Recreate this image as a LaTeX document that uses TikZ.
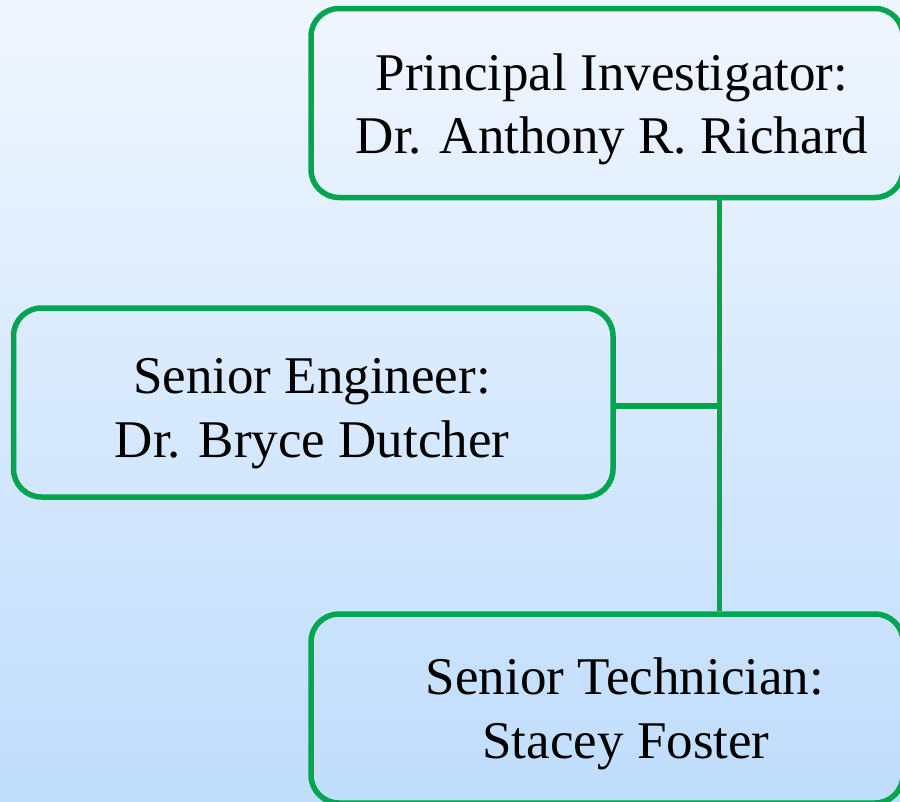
\documentclass[tikz,border=0pt]{standalone}
\usepackage{fontspec}
\setmainfont{Liberation Serif}
\definecolor{bgtop}{HTML}{F0F6FE}
\definecolor{bgbot}{HTML}{BFDDFC}
\definecolor{boxgreen}{HTML}{00A54F}
\begin{document}
\begin{tikzpicture}[x=1pt,y=-1pt,
  orgbox/.style={draw=boxgreen, line width=5.5pt, rounded corners=28pt, inner sep=0pt},
  label/.style={anchor=base, inner sep=0pt, font=\fontsize{53}{63}\selectfont, text=black},
  link/.style={draw=boxgreen, line width=5.5pt}]
  \useasboundingbox (0,0) rectangle (900,801);
  \shade[top color=bgtop, bottom color=bgbot] (0,0) rectangle (900,801);
  % boxes
  \node[orgbox, minimum width=592pt, minimum height=189pt] (pi) at (607,103) {};
  \node[orgbox, minimum width=599.5pt, minimum height=189pt] (se) at (313.25,402.5) {};
  \node[orgbox, minimum width=592pt, minimum height=189pt] (st) at (607,708.5) {};
  % texts
  \node[label] (pi1) at (612,90) {Principal Investigator:};
  \node[label] (pi2) at (612,153) {Dr. Anthony R. Richard};
  \node[label] (se1) at (312,393) {Senior Engineer:};
  \node[label] (se2) at (312,457) {Dr. Bryce Dutcher};
  \node[label] (st1) at (625,694) {Senior Technician:};
  \node[label] (st2) at (626,758) {Stacey Foster};
  % connectors
  \coordinate (j) at (719.5,406);
  \draw[link] (pi.south -| j) -- (st.north -| j);
  \draw[link] (se.east |- j) -- (j);
\end{tikzpicture}
\end{document}
